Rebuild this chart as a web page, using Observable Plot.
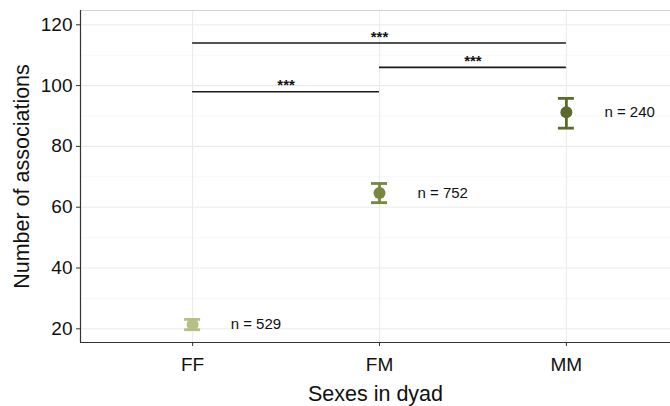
<!DOCTYPE html>
<html>
<head>
<meta charset="utf-8">
<script src="https://cdn.jsdelivr.net/npm/d3@7"></script>
<script src="https://cdn.jsdelivr.net/npm/@observablehq/plot@0.6"></script>
<style>
  html, body { margin: 0; padding: 0; background: #ffffff; }
  #chart svg { display: block; }
</style>
</head>
<body>
<div id="chart"></div>
<script>
// ---- data ----
const dyads = ["FF", "FM", "MM"];
const meanAssoc = [21.4, 64.7, 91.2];
const lowerCI = [19.7, 61.5, 86.0];
const upperCI = [23.1, 67.8, 95.8];
const nLabels = ["n = 529", "n = 752", "n = 240"];
const dyadColors = ["#b6bf86", "#77873f", "#5b6a2a"];

const cmpFrom = ["FF", "FM", "FF"];
const cmpTo = ["MM", "MM", "FM"];
const cmpY = [114, 106, 98];
const cmpLabel = ["***", "***", "***"];

const yMajorTicks = [20, 40, 60, 80, 100, 120];
const yMinorTicks = [30, 50, 70, 90, 110];
const yDomain = [15.5, 124.7];
const xDomain = [-0.6, 2.6];

// ---- tables built from the arrays ----
const points = dyads.map((d, i) => ({
  i, dyad: d, mean: meanAssoc[i], lo: lowerCI[i], hi: upperCI[i],
  label: nLabels[i], color: dyadColors[i]
}));
const comparisons = cmpFrom.map((f, k) => ({
  from: dyads.indexOf(f), to: dyads.indexOf(cmpTo[k]), y: cmpY[k], label: cmpLabel[k]
}));

const font = "'Liberation Sans', Arial, Helvetica, sans-serif";

const chart = Plot.plot({
  width: 670,
  height: 406,
  marginLeft: 80,
  marginRight: 0,
  marginTop: 10,
  marginBottom: 64,
  style: { fontFamily: font, background: "#ffffff", color: "#111111", overflow: "hidden" },
  x: { type: "linear", domain: xDomain, range: [80, 678] },
  y: { domain: yDomain },
  marks: [
    // grid
    Plot.ruleY(yMinorTicks, { stroke: "#f3f3f3", strokeWidth: 0.7 }),
    Plot.ruleY(yMajorTicks, { stroke: "#ebebeb", strokeWidth: 1.1 }),
    Plot.ruleX(points, { x: "i", stroke: "#ebebeb", strokeWidth: 1.1 }),
    Plot.ruleY([yDomain[1]], { stroke: "#d4d4d4", strokeWidth: 1 }),
    // axis lines
    Plot.ruleX([xDomain[0]], { stroke: "#333333", strokeWidth: 1.2 }),
    Plot.ruleY([yDomain[0]], { stroke: "#333333", strokeWidth: 1.2 }),
    // axes
    Plot.axisY({
      ticks: yMajorTicks, tickSize: 4, tickPadding: 4, fontSize: 19,
      label: null, stroke: "#333333", fill: "#111111"
    }),
    Plot.axisX({
      ticks: points.map(p => p.i), tickFormat: i => dyads[i],
      tickSize: 4, tickPadding: 11, fontSize: 19,
      label: null, stroke: "#333333", fill: "#111111"
    }),
    // axis titles
    Plot.text(["Number of associations"], {
      frameAnchor: "left", rotate: -90, dx: -58, fontSize: 21.5,
      textAnchor: "middle", lineAnchor: "middle", fill: "#111111"
    }),
    Plot.text(["Sexes in dyad"], {
      frameAnchor: "bottom", dy: 52, fontSize: 21.5,
      textAnchor: "middle", lineAnchor: "middle", fill: "#111111"
    }),
    // significance brackets
    Plot.ruleY(comparisons, { x1: "from", x2: "to", y: "y", stroke: "#1a1a1a", strokeWidth: 1.6 }),
    Plot.text(comparisons, {
      x: d => (d.from + d.to) / 2, y: "y", text: "label", dy: -6,
      fontSize: 15, fontWeight: "bold", lineAnchor: "middle", fill: "#111111"
    }),
    // error bars
    Plot.ruleX(points, { x: "i", y1: "lo", y2: "hi", stroke: "color", strokeWidth: 2.8 }),
    Plot.ruleY(points, { x1: "i", x2: "i", y: "lo", stroke: "color", strokeWidth: 2.8, insetLeft: -8, insetRight: -8 }),
    Plot.ruleY(points, { x1: "i", x2: "i", y: "hi", stroke: "color", strokeWidth: 2.8, insetLeft: -8, insetRight: -8 }),
    // means
    Plot.dot(points, { x: "i", y: "mean", r: 6, fill: "color", stroke: null }),
    // n labels
    Plot.text(points, {
      x: "i", y: "mean", text: "label", dx: 38, textAnchor: "start",
      lineAnchor: "middle", fontSize: 15, fill: "#111111"
    })
  ]
});

document.getElementById("chart").appendChild(chart);
</script>
</body>
</html>
